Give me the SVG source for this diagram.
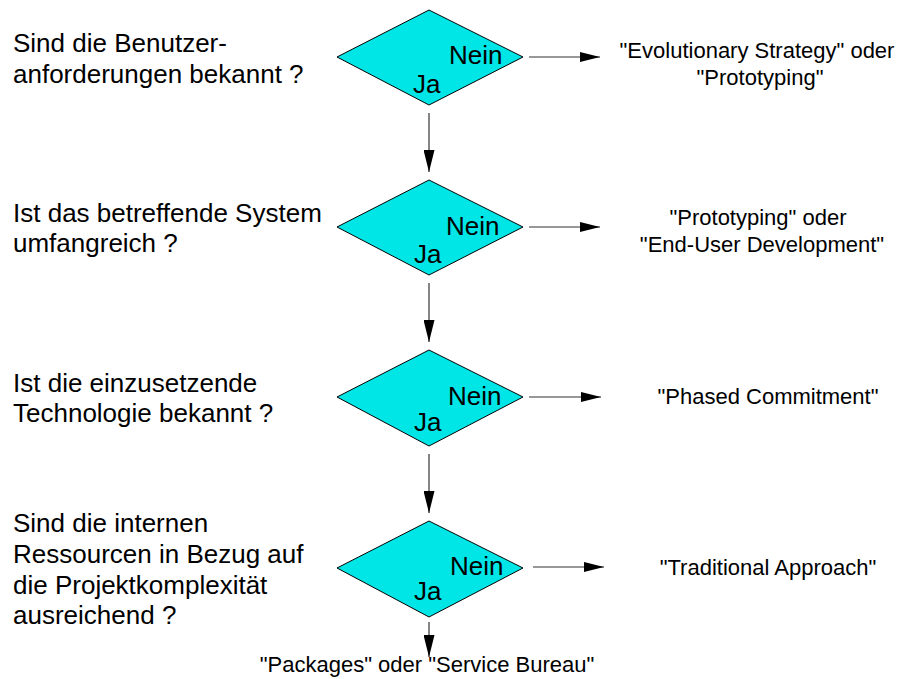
<svg xmlns="http://www.w3.org/2000/svg" width="899" height="679" viewBox="0 0 899 679">
  <defs>
    <style>
      .q { font-family: "Liberation Sans", Arial, sans-serif; font-size: 26px; fill: #000; }
      .r { font-family: "Liberation Sans", Arial, sans-serif; font-size: 22px; fill: #000; text-anchor: middle; }
      .lbl { font-family: "Liberation Sans", Arial, sans-serif; font-size: 26px; fill: #000; }
      .dia { fill: #00e5e5; stroke: #000; stroke-width: 1; }
      .ln { stroke: #333; stroke-width: 1.2; fill: none; }
    </style>
    <marker id="ah" viewBox="0 0 20 10" refX="20" refY="5" markerWidth="20" markerHeight="10" markerUnits="userSpaceOnUse" orient="auto">
      <path d="M0,0 L20,5 L0,10 z" fill="#000"/>
    </marker>
    <marker id="av" viewBox="0 0 22 11" refX="22" refY="5.5" markerWidth="22" markerHeight="11" markerUnits="userSpaceOnUse" orient="auto">
      <path d="M0,0 L22,5.5 L0,11 z" fill="#000"/>
    </marker>
  </defs>

  <rect width="899" height="679" fill="#fff"/>

  <!-- questions on the left -->
  <g id="q1">
    <text class="q" x="13" y="52">Sind die Benutzer-</text>
    <text class="q" x="13" y="83">anforderungen bekannt ?</text>
  </g>
  <g id="q2">
    <text class="q" x="13" y="222">Ist das betreffende System</text>
    <text class="q" x="13" y="252">umfangreich ?</text>
  </g>
  <g id="q3">
    <text class="q" x="13" y="392">Ist die einzusetzende</text>
    <text class="q" x="13" y="422">Technologie bekannt ?</text>
  </g>
  <g id="q4">
    <text class="q" x="13" y="532">Sind die internen</text>
    <text class="q" x="13" y="563">Ressourcen in Bezug auf</text>
    <text class="q" x="13" y="594">die Projektkomplexität</text>
    <text class="q" x="13" y="624">ausreichend ?</text>
  </g>

  <!-- decision diamonds -->
  <g id="d1">
    <polygon class="dia" points="337,57 429,10 523,57 429,105"/>
    <text class="lbl" x="449" y="64">Nein</text>
    <text class="lbl" x="413" y="93">Ja</text>
  </g>
  <g id="d2">
    <polygon class="dia" points="337,227 429,180 523,227 429,275"/>
    <text class="lbl" x="446" y="235">Nein</text>
    <text class="lbl" x="414" y="263">Ja</text>
  </g>
  <g id="d3">
    <polygon class="dia" points="337,397 429,350 523,397 429,446"/>
    <text class="lbl" x="448" y="405">Nein</text>
    <text class="lbl" x="414" y="431">Ja</text>
  </g>
  <g id="d4">
    <polygon class="dia" points="337,568 429,521 523,568 429,617"/>
    <text class="lbl" x="450" y="575">Nein</text>
    <text class="lbl" x="414" y="600">Ja</text>
  </g>

  <!-- outcomes on the right -->
  <g id="o1">
    <text class="r" x="757" y="58">"Evolutionary Strategy" oder</text>
    <text class="r" x="760" y="85">"Prototyping"</text>
  </g>
  <g id="o2">
    <text class="r" x="758" y="225">"Prototyping" oder</text>
    <text class="r" x="762" y="252">"End-User Development"</text>
  </g>
  <g id="o3">
    <text class="r" x="768" y="404">"Phased Commitment"</text>
  </g>
  <g id="o4">
    <text class="r" x="768" y="575">"Traditional Approach"</text>
  </g>
  <g id="o5">
    <text class="r" x="427" y="672">"Packages" oder "Service Bureau"</text>
  </g>

  <!-- connectors -->
  <g id="connectors">
    <line class="ln" x1="529" y1="57" x2="600" y2="57" marker-end="url(#ah)"/>
    <line class="ln" x1="529" y1="227" x2="600" y2="227" marker-end="url(#ah)"/>
    <line class="ln" x1="529" y1="397" x2="601" y2="397" marker-end="url(#ah)"/>
    <line class="ln" x1="533" y1="567" x2="604" y2="567" marker-end="url(#ah)"/>
    <line class="ln" x1="429" y1="113" x2="429" y2="172" marker-end="url(#av)"/>
    <line class="ln" x1="429" y1="283" x2="429" y2="342" marker-end="url(#av)"/>
    <line class="ln" x1="429" y1="454" x2="429" y2="513" marker-end="url(#av)"/>
    <line class="ln" x1="429" y1="622" x2="429" y2="657" marker-end="url(#av)"/>
  </g>
</svg>
